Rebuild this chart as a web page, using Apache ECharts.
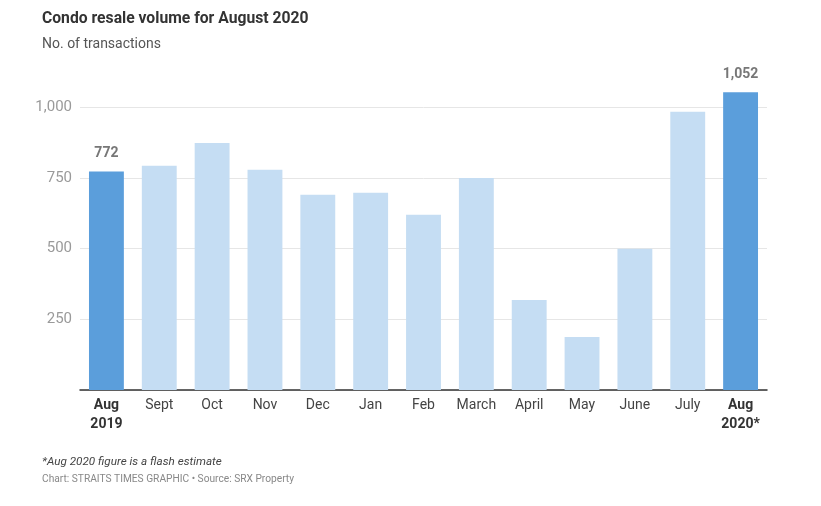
<!DOCTYPE html>
<html><head><meta charset="utf-8">
<script src="https://cdn.jsdelivr.net/npm/echarts@6/dist/echarts.min.js"></script>
<style>html,body{margin:0;padding:0;background:#fff}#c{width:821px;height:506px}</style>
</head><body><div id="c"></div>
<script>
const categories = ['Aug\n2019','Sept','Oct','Nov','Dec','Jan','Feb','March','April','May','June','July','Aug\n2020*'];
const values = [772, 792, 873, 778, 690, 697, 619, 749, 318, 187, 499, 983, 1052];
const highlighted = [true, false, false, false, false, false, false, false, false, false, false, false, true];
const yTicks = [0, 250, 500, 750, 1000];

const chart = echarts.init(document.getElementById('c'));
const font = 'Roboto, "Noto Sans", sans-serif';
chart.setOption({
  animation: false,
  textStyle: {fontFamily: font},
  title: [
    {text: 'Condo resale volume for August 2020', left: 37, top: 6,
     textStyle: {fontSize: 15.7, fontWeight: 'bold', color: '#333', fontFamily: font}},
    {text: 'No. of transactions', left: 37, top: 32,
     textStyle: {fontSize: 14, fontWeight: 'normal', color: '#555', fontFamily: font}},
    {text: '*Aug 2020 figure is a flash estimate', left: 37, top: 451,
     textStyle: {fontSize: 11.7, fontWeight: 'normal', fontStyle: 'italic', color: '#444', fontFamily: font}},
    {text: 'Chart: STRAITS TIMES GRAPHIC • Source: SRX Property', left: 37, top: 469,
     textStyle: {fontSize: 10.2, fontWeight: 'normal', color: '#888', fontFamily: font}}
  ],
  grid: {left: 80, right: 54, top: 107, bottom: 116, containLabel: false},
  xAxis: {
    type: 'category', data: categories,
    axisLine: {lineStyle: {color: '#333', width: 1.5}},
    axisTick: {show: false},
    axisLabel: {
      interval: 0, margin: 6, fontSize: 14, color: '#444', lineHeight: 19, fontFamily: font,
      formatter: (v, i) => highlighted[i] ? '{b|' + v + '}' : v,
      rich: {b: {fontWeight: 'bold', fontSize: 14, color: '#333', lineHeight: 19, fontFamily: font}}
    }
  },
  yAxis: {
    type: 'value', min: yTicks[0], max: yTicks[yTicks.length - 1], interval: 250,
    axisLine: {show: false}, axisTick: {show: false},
    splitLine: {lineStyle: {color: '#e6e6e6', width: 1}},
    axisLabel: {
      margin: 8, fontSize: 15, color: '#9a9a9a', fontFamily: font,
      formatter: v => v === 0 ? '' : v.toLocaleString('en-US')
    }
  },
  series: [{
    type: 'bar', barWidth: '66%', clip: false,
    data: values.map((v, i) => ({
      value: v,
      itemStyle: {color: highlighted[i] ? '#5b9edb' : '#c5ddf3'},
      label: {show: highlighted[i]}
    })),
    label: {
      position: 'top', distance: 11, fontSize: 14, fontWeight: 'bold', color: '#777', fontFamily: font,
      formatter: p => p.value.toLocaleString('en-US')
    }
  }]
});
</script></body></html>
